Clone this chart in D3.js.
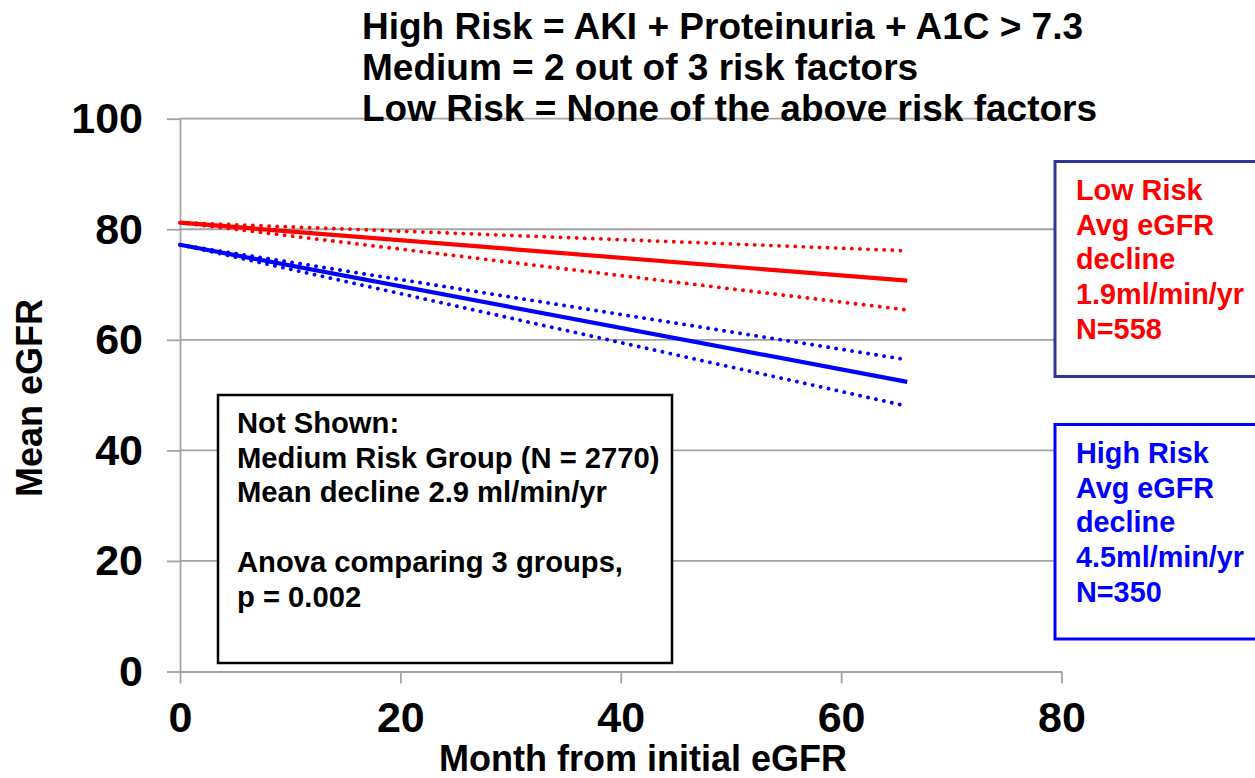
<!DOCTYPE html>
<html>
<head>
<meta charset="utf-8">
<script src="https://cdn.jsdelivr.net/npm/d3@7"></script>
<style>
  html, body { margin: 0; padding: 0; background: #fff; }
  svg { display: block; }
  text { font-family: "Liberation Sans", Arial, Helvetica, sans-serif; font-weight: bold; }
</style>
</head>
<body>
<svg id="chart" width="1255" height="778"></svg>
<script>
// Fitted eGFR trajectories (months 0 → 66) with 95% bands
const months = [0, 66];
const lowRisk = [81.2, 70.7];
const lowUpper = [81.2, 76.1];
const lowLower = [81.2, 65.4];
const highRisk = [77.2, 52.4];
const highUpper = [77.2, 56.4];
const highLower = [77.2, 48.0];

const xTicks = [0, 20, 40, 60, 80];
const yTicks = [0, 20, 40, 60, 80, 100];

const titleLines = [
  "High Risk = AKI + Proteinuria + A1C > 7.3",
  "Medium = 2 out of 3 risk factors",
  "Low Risk = None of the above risk factors"
];
const noteLines = [
  "Not Shown:",
  "Medium Risk Group (N = 2770)",
  "Mean decline 2.9 ml/min/yr",
  "",
  "Anova comparing 3 groups,",
  "p = 0.002"
];
const lowLabel = ["Low Risk", "Avg eGFR", "decline", "1.9ml/min/yr", "N=558"];
const highLabel = ["High Risk", "Avg eGFR", "decline", "4.5ml/min/yr", "N=350"];

const svg = d3.select("#chart");
const gridColor = "#a3a3a3";

const x = d3.scaleLinear().domain([0, 80]).range([180, 1061.5]);
const y = d3.scaleLinear().domain([0, 100]).range([671.5, 118.7]);

// horizontal gridlines
svg.append("g")
  .selectAll("line")
  .data(yTicks.filter(d => d > 0))
  .join("line")
  .attr("x1", x(0)).attr("x2", x(80))
  .attr("y1", d => y(d)).attr("y2", d => y(d))
  .attr("stroke", gridColor).attr("stroke-width", 1.8);

// axes
const yAxis = svg.append("g")
  .attr("transform", `translate(${x(0)},0)`)
  .call(d3.axisLeft(y).tickValues(yTicks).tickSize(13).tickSizeOuter(0).tickPadding(24));
const xAxis = svg.append("g")
  .attr("transform", `translate(0,${y(0)})`)
  .call(d3.axisBottom(x).tickValues(xTicks).tickSize(12).tickSizeOuter(0).tickPadding(18));

[yAxis, xAxis].forEach(g => {
  g.select(".domain").attr("stroke", gridColor).attr("stroke-width", 1.8);
  g.selectAll(".tick line").attr("stroke", gridColor).attr("stroke-width", 1.8);
  g.selectAll(".tick text")
    .attr("fill", "#000")
    .style("font-size", "43px")
    .style("font-family", "\"Liberation Sans\", Arial, sans-serif")
    .style("font-weight", "bold");
});

// axis titles
svg.append("text")
  .attr("x", 643).attr("y", 771)
  .attr("text-anchor", "middle")
  .style("font-size", "36px")
  .text("Month from initial eGFR");
svg.append("text")
  .attr("transform", "translate(42,398) rotate(-90)")
  .attr("text-anchor", "middle")
  .style("font-size", "36px")
  .text("Mean eGFR");

// trajectories
const line = d3.line().x((d, i) => x(months[i])).y(d => y(d));
const series = [
  { v: lowUpper, c: "#ff0000", dotted: true },
  { v: lowLower, c: "#ff0000", dotted: true },
  { v: highUpper, c: "#0000ff", dotted: true },
  { v: highLower, c: "#0000ff", dotted: true },
  { v: lowRisk, c: "#ff0000", dotted: false },
  { v: highRisk, c: "#0000ff", dotted: false }
];
svg.append("g")
  .selectAll("path")
  .data(series)
  .join("path")
  .attr("d", d => line(d.v))
  .attr("fill", "none")
  .attr("stroke", d => d.c)
  .attr("stroke-width", d => d.dotted ? 3.8 : 4.2)
  .attr("stroke-linecap", d => d.dotted ? "round" : "butt")
  .attr("stroke-dasharray", d => d.dotted ? "0.1 8" : null);

// definition title
svg.append("g")
  .selectAll("text")
  .data(titleLines)
  .join("text")
  .attr("x", 362)
  .attr("y", (d, i) => 39 + i * 40.8)
  .style("font-size", "37px")
  .attr("fill", "#000")
  .text(d => d);

// note box
svg.append("rect")
  .attr("x", 218).attr("y", 395)
  .attr("width", 454).attr("height", 268)
  .attr("fill", "#fff").attr("stroke", "#000").attr("stroke-width", 2.5);
svg.append("g")
  .selectAll("text")
  .data(noteLines)
  .join("text")
  .attr("x", 237)
  .attr("y", (d, i) => 433 + i * 34.7)
  .style("font-size", "29.2px")
  .attr("fill", "#000")
  .text(d => d);

// group labels
function groupBox(top, h, stroke, color, lines) {
  svg.append("rect")
    .attr("x", 1055).attr("y", top)
    .attr("width", 260).attr("height", h)
    .attr("fill", "#fff").attr("stroke", stroke).attr("stroke-width", 3);
  svg.append("g")
    .selectAll("text")
    .data(lines)
    .join("text")
    .attr("x", 1076)
    .attr("y", (d, i) => top + 38.5 + i * 34.7)
    .style("font-size", "28.8px")
    .attr("fill", color)
    .text(d => d);
}
groupBox(161.5, 215, "#333399", "#ff0000", lowLabel);
groupBox(424.5, 214.5, "#0000ff", "#0000ff", highLabel);
</script>
</body>
</html>
